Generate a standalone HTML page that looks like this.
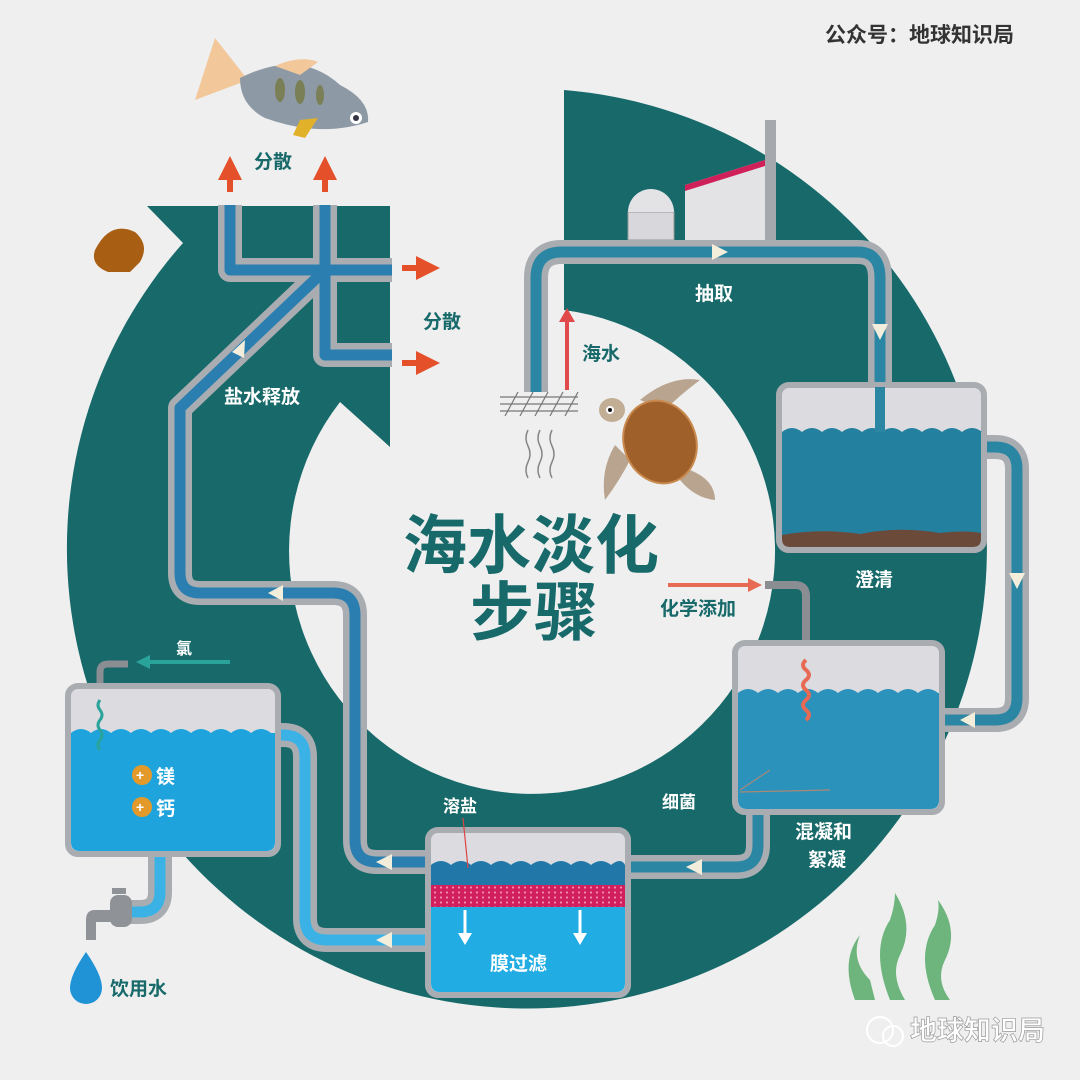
<!DOCTYPE html>
<html><head><meta charset="utf-8"><style>
html,body{margin:0;padding:0;background:#efefef;}
svg{display:block}
text{font-family:"Liberation Sans","Noto Sans CJK SC",sans-serif;font-weight:bold}
</style></head><body>
<svg width="1080" height="1080" viewBox="0 0 1080 1080" xmlns="http://www.w3.org/2000/svg">
<defs>
<marker id="ar" viewBox="0 0 10 10" refX="5" refY="5" markerWidth="4" markerHeight="4" orient="auto"><path d="M0,0L10,5L0,10z" fill="#e4502a"/></marker>
<pattern id="dots" width="6" height="5" patternUnits="userSpaceOnUse"><rect width="6" height="5" fill="#d01f5c"/><circle cx="3" cy="2.5" r="1.1" fill="#f28db0"/></pattern>
</defs>
<rect width="1080" height="1080" fill="#efefef"/>
<path d="M564,90 A460,460 0 1 1 183,243 L147,206 L390,206 L390,447 L340,402 A243,243 0 1 0 564,310 Z" fill="#17696a"/>

<text x="825" y="42" font-size="21" fill="#333">公众号：地球知识局</text>

<g>
<path d="M195,100 L215,38 L248,80 Z" fill="#f2c79a"/>
<path d="M240,78 Q300,48 340,85 Q370,100 368,122 Q320,138 265,118 Q240,105 240,78Z" fill="#8d9aa6"/>
<path d="M275,66 Q300,55 318,62 L300,75Z" fill="#f2c79a"/>
<path d="M300,120 L318,118 L305,138 L293,135Z" fill="#e2b12a"/>
<ellipse cx="280" cy="90" rx="5" ry="12" fill="#7a7f55"/><ellipse cx="300" cy="92" rx="5" ry="12" fill="#7a7f55"/><ellipse cx="320" cy="95" rx="4" ry="10" fill="#7a7f55"/>
<circle cx="356" cy="118" r="6" fill="#fff"/><circle cx="356" cy="118" r="3" fill="#334"/>
</g>
<path d="M95,250 Q110,220 135,232 Q150,245 140,262 L130,272 L108,272 Q90,265 95,250Z" fill="#a85f14"/>

<rect x="765" y="120" width="11" height="120" fill="#a5a9ad"/>
<path d="M685,185 L765,160 L765,240 L685,240Z" fill="#e3e3e6"/>
<path d="M685,185 L765,160 L765,166 L685,191Z" fill="#d0205a"/>
<rect x="628" y="212" width="46" height="28" fill="#d8d8dc" stroke="#999" stroke-width="1"/>
<path d="M628,212 A23,23 0 0 1 674,212Z" fill="#e3e3e6"/>

<g fill="none" stroke-linejoin="round" stroke-linecap="butt">
<path d="M536,392 L536,278 Q536,252 562,252 L858,252 Q880,252 880,278 L880,432" stroke="#a9adb1" stroke-width="24"/>
<path d="M536,392 L536,278 Q536,252 562,252 L858,252 Q880,252 880,278 L880,432" stroke="#2b86a3" stroke-width="11"/>
<path d="M975,447 L995,447 Q1017,447 1017,469 L1017,698 Q1017,720 995,720 L935,720" stroke="#a9adb1" stroke-width="24"/>
<path d="M975,447 L995,447 Q1017,447 1017,469 L1017,698 Q1017,720 995,720 L935,720" stroke="#2b86a3" stroke-width="11"/>
<path d="M758,805 L758,845 Q758,867 736,867 L620,867" stroke="#a9adb1" stroke-width="24"/>
<path d="M758,805 L758,845 Q758,867 736,867 L620,867" stroke="#2b86a3" stroke-width="11"/>
<path d="M432,862 L377,862 Q355,862 355,840 L355,615 Q355,593 333,593 L200,593 Q180,593 180,573 L180,408 L325,270 M230,205 L230,270 L392,270 M325,205 L325,355 L392,355" stroke="#a9adb1" stroke-width="24"/>
<path d="M432,862 L377,862 Q355,862 355,840 L355,615 Q355,593 333,593 L200,593 Q180,593 180,573 L180,408 L325,270 M230,205 L230,270 L392,270 M325,205 L325,355 L392,355" stroke="#2a7fb0" stroke-width="11"/>
<path d="M432,940 L327,940 Q305,940 305,918 L305,757 Q305,735 283,735 L270,735" stroke="#a9adb1" stroke-width="24"/>
<path d="M432,940 L327,940 Q305,940 305,918 L305,757 Q305,735 283,735 L270,735" stroke="#3ab2e5" stroke-width="11"/>
<path d="M160,850 L160,892 Q160,912 140,912 L118,912" stroke="#a9adb1" stroke-width="24"/>
<path d="M160,850 L160,892 Q160,912 140,912 L118,912" stroke="#3ab2e5" stroke-width="11"/>
<path d="M765,585 L795,585 Q806,585 806,596 L806,660" stroke="#8a8d91" stroke-width="8"/>
<path d="M100,700 L100,672 Q100,664 108,664 L128,664" stroke="#8a8d91" stroke-width="7"/>
</g>

<g fill="#f3eedb">
<path d="M712,244 L728,252 L712,260Z"/>
<path d="M872,324 L888,324 L880,340Z"/>
<path d="M1009,573 L1025,573 L1017,589Z"/>
<path d="M975,712 L975,728 L960,720Z"/>
<path d="M702,859 L702,875 L686,867Z"/>
<path d="M392,854 L392,870 L376,862Z"/>
<path d="M392,932 L392,948 L376,940Z"/>
<path d="M283,585 L283,601 L268,593Z"/>
<path d="M232,352 L245,340 L244,358Z"/>
</g>

<g stroke="#e4502a" stroke-width="6" marker-end="url(#ar)">
<line x1="230" y1="192" x2="230" y2="168"/>
<line x1="325" y1="192" x2="325" y2="168"/>
<line x1="402" y1="268" x2="428" y2="268"/>
<line x1="402" y1="363" x2="428" y2="363"/>
</g>
<line x1="567" y1="390" x2="567" y2="320" stroke="#e04a4a" stroke-width="4"/>
<path d="M559,322 L567,308 L575,322Z" fill="#e04a4a"/>
<line x1="668" y1="585" x2="750" y2="585" stroke="#e76a55" stroke-width="4"/>
<path d="M748,578 L762,585 L748,592Z" fill="#e76a55"/>
<line x1="230" y1="662" x2="148" y2="662" stroke="#2aa39a" stroke-width="4"/>
<path d="M150,655 L136,662 L150,669Z" fill="#2aa39a"/>

<g stroke="#777" stroke-width="1.2">
<line x1="500" y1="397" x2="578" y2="397"/><line x1="500" y1="404" x2="578" y2="404"/><line x1="500" y1="411" x2="578" y2="411"/>
<line x1="505" y1="416" x2="518" y2="392"/><line x1="520" y1="416" x2="533" y2="392"/><line x1="535" y1="416" x2="548" y2="392"/><line x1="550" y1="416" x2="563" y2="392"/><line x1="565" y1="416" x2="578" y2="392"/>
</g>
<g stroke="#888" stroke-width="1.5" fill="none">
<path d="M528,430 q-4,8 0,16 q4,8 0,16 q-4,8 0,16"/>
<path d="M540,430 q-4,8 0,16 q4,8 0,16 q-4,8 0,16"/>
<path d="M552,430 q-4,8 0,16 q4,8 0,16 q-4,8 0,16"/>
</g>

<g>
<path d="M640,400 Q670,375 700,380 Q680,395 665,410Z" fill="#b9a58f"/>
<path d="M615,445 Q600,470 605,500 Q620,480 630,460Z" fill="#b9a58f"/>
<path d="M690,470 Q715,480 715,500 Q695,498 680,480Z" fill="#b9a58f"/>
<ellipse cx="612" cy="410" rx="13" ry="12" fill="#c2ad95"/>
<circle cx="610" cy="410" r="4" fill="#fff"/><circle cx="610" cy="410" r="2" fill="#111"/>
<ellipse cx="660" cy="442" rx="36" ry="42" transform="rotate(-20 660 442)" fill="#a0602a" stroke="#c98a4f" stroke-width="2"/>
</g>

<!-- clarifier tank -->
<rect x="779" y="385" width="205" height="165" rx="10" fill="#dcdbe0" stroke="#a9adb1" stroke-width="6"/>
<path d="M782,432 q10,-8 20,0 q10,-8 20,0 q10,-8 20,0 q10,-8 20,0 q10,-8 20,0 q10,-8 20,0 q10,-8 20,0 q10,-8 20,0 q10,-8 20,0 q10,-8 20,0 L981,432 L981,540 L782,540Z" fill="#24809f"/>
<path d="M782,535 Q820,528 860,534 Q900,526 940,533 Q965,530 981,533 L981,539 Q981,547 973,547 L790,547 Q782,547 782,539Z" fill="#6b4a3a"/>
<rect x="875" y="387" width="10" height="45" fill="#2b86a3"/>

<rect x="735" y="643" width="207" height="169" rx="10" fill="#dcdbe0" stroke="#a9adb1" stroke-width="6"/>
<path d="M738,693 q10,-8 20,0 q10,-8 20,0 q10,-8 20,0 q10,-8 20,0 q10,-8 20,0 q10,-8 20,0 q10,-8 20,0 q10,-8 20,0 q10,-8 20,0 q10,-8 20,0 L939,693 L939,800 Q939,809 930,809 L747,809 Q738,809 738,800Z" fill="#2b92bb"/>
<path d="M806,660 q-6,5 0,10 q6,5 0,10 q-6,5 0,10 q6,5 0,10 q-6,5 0,10 q6,5 0,10" stroke="#e76a55" stroke-width="4" fill="none"/>
<line x1="740" y1="790" x2="770" y2="770" stroke="#aa8877" stroke-width="1.2"/>
<line x1="740" y1="792" x2="830" y2="790" stroke="#aa8877" stroke-width="1.2"/>

<rect x="428" y="830" width="200" height="165" rx="10" fill="#dcdbe0" stroke="#a9adb1" stroke-width="6"/>
<path d="M431,865 q10,-8 20,0 q10,-8 20,0 q10,-8 20,0 q10,-8 20,0 q10,-8 20,0 q10,-8 20,0 q10,-8 20,0 q10,-8 20,0 q10,-8 20,0 q10,-8 14,0 L625,885 L431,885Z" fill="#2177a8"/>
<rect x="431" y="885" width="194" height="22" fill="url(#dots)"/>
<path d="M431,907 L625,907 L625,983 Q625,992 616,992 L440,992 Q431,992 431,983Z" fill="#21ace4"/>
<g stroke="#fff" stroke-width="3"><line x1="465" y1="910" x2="465" y2="935"/><line x1="580" y1="910" x2="580" y2="935"/></g>
<path d="M458,933 L472,933 L465,945Z M573,933 L587,933 L580,945Z" fill="#fff"/>
<line x1="463" y1="818" x2="468" y2="868" stroke="#d44" stroke-width="1.2"/>

<rect x="68" y="686" width="210" height="168" rx="10" fill="#dcdbe0" stroke="#a9adb1" stroke-width="6"/>
<path d="M71,733 q10,-8 20,0 q10,-8 20,0 q10,-8 20,0 q10,-8 20,0 q10,-8 20,0 q10,-8 20,0 q10,-8 20,0 q10,-8 20,0 q10,-8 20,0 q10,-8 20,0 L275,733 L275,842 Q275,851 266,851 L80,851 Q71,851 71,842Z" fill="#1fa3dc"/>
<path d="M100,700 q-4,5 0,10 q4,5 0,10 q-4,5 0,10 q4,5 0,10 q-4,5 0,10" stroke="#2aa39a" stroke-width="3" fill="none"/>
<circle cx="142" cy="775" r="10" fill="#e39a2a"/><circle cx="142" cy="807" r="10" fill="#e39a2a"/>
<text x="136" y="780" font-size="14" fill="#fff">+</text><text x="136" y="812" font-size="14" fill="#fff">+</text>

<rect x="110" y="895" width="22" height="32" rx="8" fill="#8f9296"/>
<path d="M112,910 L95,910 Q86,910 86,920 L86,940 L96,940 L96,922 L112,922Z" fill="#8f9296"/>
<rect x="112" y="888" width="14" height="6" fill="#8f9296"/>
<path d="M86,952 Q70,975 70,988 A16,16 0 0 0 102,988 Q102,975 86,952Z" fill="#1f93d6"/>

<g fill="#6db57c">
<path d="M855,1000 Q840,960 860,935 Q850,960 870,980 L875,1000Z"/>
<path d="M890,1000 Q870,950 890,920 Q895,905 895,893 Q915,925 900,955 Q890,975 905,1000Z"/>
<path d="M935,1000 Q915,955 935,925 Q940,910 938,900 Q960,930 945,960 Q935,980 950,1000Z"/>
</g>

<g font-size="19">
<text x="254" y="168" fill="#17696a">分散</text>
<text x="423" y="328" fill="#17696a">分散</text>
<text x="224" y="403" fill="#fff">盐水释放</text>
<text x="695" y="300" fill="#fff">抽取</text>
<text x="582" y="360" fill="#17696a">海水</text>
<text x="855" y="586" fill="#fff">澄清</text>
<text x="660" y="615" fill="#17696a">化学添加</text>
<text x="662" y="808" fill="#fff" font-size="17">细菌</text>
<text x="795" y="838" fill="#fff">混凝和</text>
<text x="808" y="866" fill="#fff">絮凝</text>
<text x="443" y="812" fill="#fff" font-size="17">溶盐</text>
<text x="490" y="970" fill="#fff">膜过滤</text>
<text x="110" y="995" fill="#17696a">饮用水</text>
<text x="156" y="783" fill="#fff">镁</text>
<text x="156" y="815" fill="#fff">钙</text>
<text x="176" y="654" fill="#fff" font-size="16">氯</text>
</g>
<text x="403" y="568" font-size="64" fill="#17696a">海水淡化</text>
<text x="470" y="635" font-size="64" fill="#17696a">步骤</text>

<circle cx="880" cy="1030" r="13" fill="none" stroke="#fff" stroke-width="2"/>
<circle cx="893" cy="1036" r="10" fill="none" stroke="#fff" stroke-width="2"/>
<text x="910" y="1040" font-size="27" fill="#fff" stroke="#999" stroke-width="0.7" font-weight="normal">地球知识局</text>
</svg>
</body></html>
